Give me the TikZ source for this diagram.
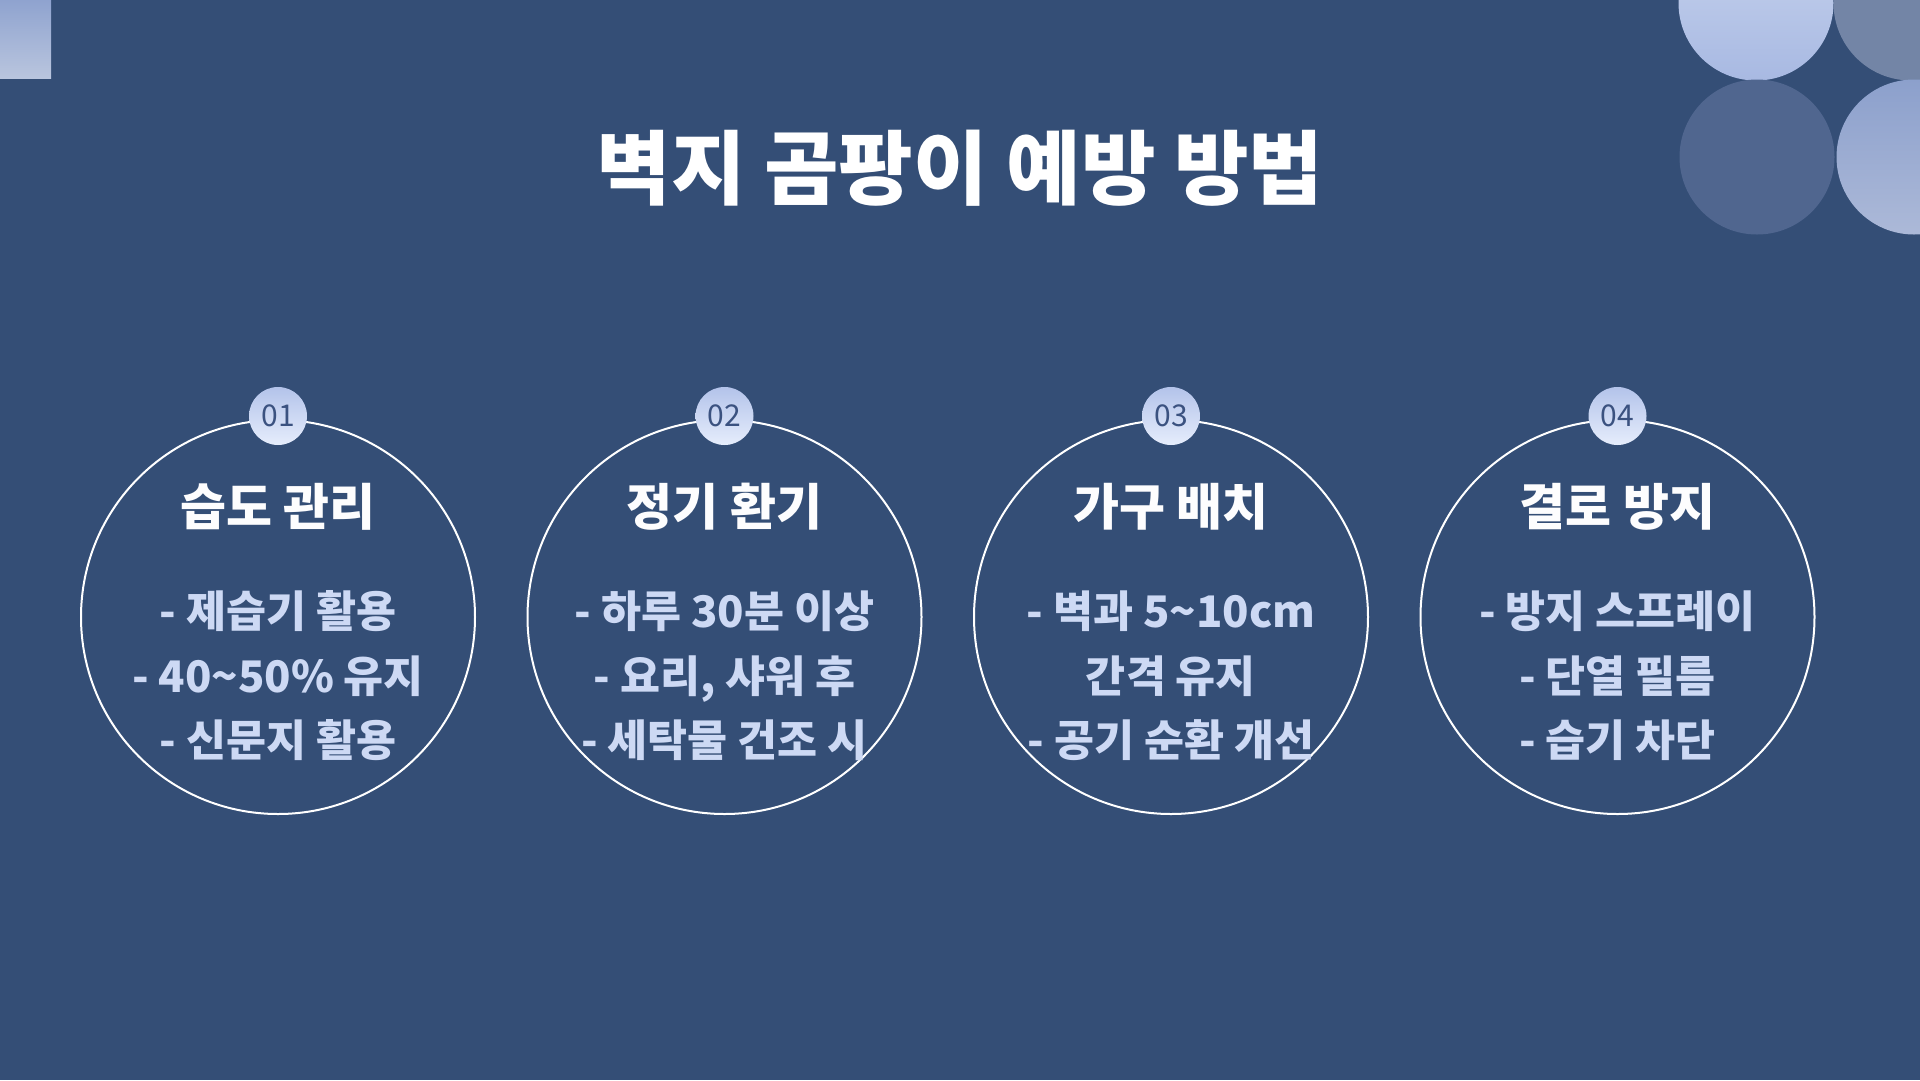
\documentclass[tikz,border=0pt]{standalone}
\usepackage{fontspec}
\setmainfont{Noto Sans CJK KR}
\definecolor{bg}{HTML}{344E76}
\definecolor{bullet}{HTML}{CDD9F4}
\definecolor{badgetxt}{HTML}{3B5280}
\definecolor{badgetop}{HTML}{B3C3EA}
\definecolor{badgebot}{HTML}{E6EDFC}
\definecolor{recttop}{RGB}{143,163,207}
\definecolor{rectbot}{RGB}{185,197,222}
\definecolor{catop}{RGB}{200,212,238}
\definecolor{cabot}{RGB}{168,185,226}
\definecolor{cb}{RGB}{115,133,166}
\definecolor{cc}{RGB}{80,102,143}
\definecolor{cdtop}{RGB}{140,160,204}
\definecolor{cdbot}{RGB}{172,185,216}
\tikzset{
  ring/.style={draw=white, line width=2pt},
  badge/.style={circle, minimum size=58pt, inner sep=0pt, top color=badgetop, bottom color=badgebot, draw=none, text=badgetxt, font=\fontsize{30}{32}\selectfont},
  cardtitle/.style={text=white!96!bullet, font=\fontsize{50}{56}\selectfont\bfseries},
  cardtext/.style={text=bullet, align=center, font=\fontsize{43.5}{64.5}\selectfont\bfseries},
}
\begin{document}
\begin{tikzpicture}[x=1pt,y=-1pt]
\useasboundingbox (0,0) rectangle (1920,1080);
\clip (0,0) rectangle (1920,1080);
\fill[bg] (0,0) rectangle (1920,1080);
% decorations
\shade[top color=recttop, bottom color=rectbot] (0,0) rectangle (51,78);
\shade[top color=catop, bottom color=cabot] (1756,3) circle (77.5);
\fill[cb] (1911,3) circle (77.5);
\fill[cc] (1757,157) circle (77.5);
\shade[top color=cdtop, bottom color=cdbot] (1914,157) circle (77.5);
% main title
\node[text=white, font=\fontsize{81}{86}\selectfont\bfseries] (title) at (960,168) {벽지 곰팡이 예방 방법};
% cards
\foreach \i/\x/\t/\body in {
  1/278/{습도 관리}/{- 제습기 활용\\- 40\textasciitilde50\% 유지\\- 신문지 활용},
  2/724.5/{정기 환기}/{- 하루 30분 이상\\- 요리, 샤워 후\\- 세탁물 건조 시},
  3/1171/{가구 배치}/{- 벽과 5\textasciitilde10cm\\간격 유지\\- 공기 순환 개선},
  4/1617.5/{결로 방지}/{- 방지 스프레이\\- 단열 필름\\- 습기 차단}}{
  \node[circle, minimum size=394pt, inner sep=0pt, ring] (c\i) at (\x,617) {};
  \node[badge] (b\i) at ([yshift=3pt]c\i.north) {0\i};
  \node[cardtitle] (t\i) at (\x,507) {\t};
  \node[cardtext] (d\i) at (\x,676) {\body};
}
\end{tikzpicture}
\end{document}
